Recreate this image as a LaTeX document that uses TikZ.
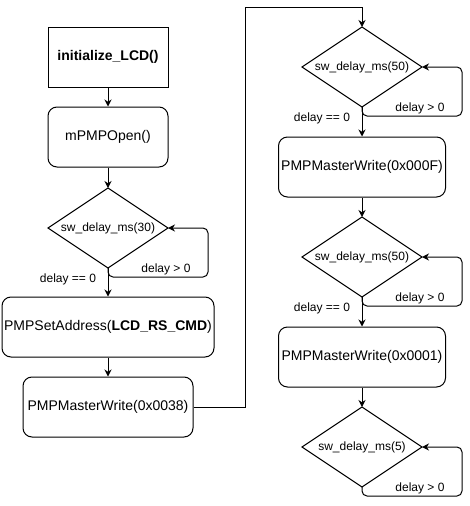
\documentclass[tikz,border=0pt]{standalone}
\usepackage{fontspec}
\setmainfont{Liberation Sans}
\usetikzlibrary{shapes.geometric,arrows.meta}
\tikzset{
  box/.style={draw, line width=1pt, minimum height=60pt, inner sep=0pt, font=\fontsize{14}{16}\selectfont, fill=white},
  rbox/.style={box, rounded corners=9pt},
  dec/.style={draw, diamond, line width=1pt, minimum width=120pt, minimum height=80pt, inner sep=0pt, outer sep=0pt, label={[lbl]center:#1}},
  arr/.style={draw, line width=1pt, -{Stealth[length=7pt,width=7pt]}},
  loopline/.style={arr, rounded corners=5pt},
  lbl/.style={font=\fontsize{12}{14}\selectfont, inner sep=0pt}
}
\begin{document}
\begin{tikzpicture}[x=1pt,y=1pt,yscale=-1]
\useasboundingbox (0,0) rectangle (470,506);
% left column
\node[box, minimum width=120pt] (init) at (108,57) {\bfseries initialize\_LCD()};
\node[rbox, minimum width=120pt] (open) at (108,137) {mPMPOpen()};
\node[dec={sw\_delay\_ms(30)}] (d1) at (108,228) {};
\node[rbox, minimum width=212pt] (setaddr) at (108,327) {PMPSetAddress(\textbf{LCD\_RS\_CMD})};
\node[rbox, minimum width=170pt] (mw38) at (108,407) {PMPMasterWrite(0x0038)};
% right column
\node[dec={sw\_delay\_ms(50)}] (d2) at (362,67) {};
\node[rbox, minimum width=167pt] (mw0F) at (362,167) {PMPMasterWrite(0x000F)};
\node[dec={sw\_delay\_ms(50)}] (d3) at (362,257) {};
\node[rbox, minimum width=167pt] (mw01) at (362,357) {PMPMasterWrite(0x0001)};
\node[dec={sw\_delay\_ms(5)}] (d4) at (362,447) {};
% main flow
\draw[arr] (init) -- (open);
\draw[arr] (open) -- (d1);
\draw[arr] (d1) -- (setaddr);
\draw[arr] (setaddr) -- (mw38);
\coordinate (c1) at (245,7);
\draw[arr] (mw38.east) -| (c1) -| (d2.north);
\draw[arr] (d2) -- (mw0F);
\draw[arr] (mw0F) -- (d3);
\draw[arr] (d3) -- (mw01);
\draw[arr] (mw01) -- (d4);
% loops
\foreach \d in {d1,d2,d3,d4}{
  \draw[loopline] (\d.south) -- ++(0,9) -| ([xshift=40pt]\d.east) -- (\d.east);
  \node[lbl] at ([xshift=58pt,yshift=1pt]\d.south) {delay > 0};
}
\foreach \d in {d1,d2,d3}{
  \node[lbl] at ([xshift=-40pt,yshift=11pt]\d.south) {delay == 0};
}
\end{tikzpicture}
\end{document}
